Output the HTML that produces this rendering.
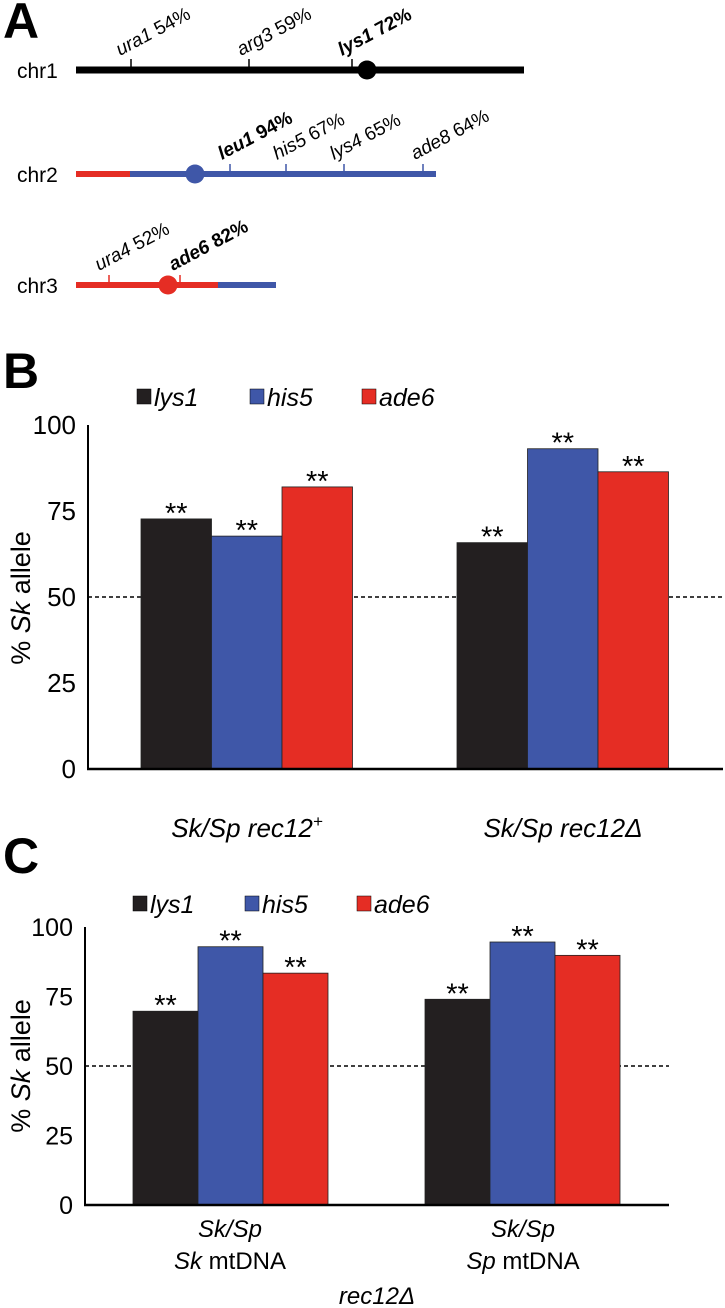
<!DOCTYPE html>
<html><head><meta charset="utf-8"><style>
html,body{margin:0;padding:0;background:#fff;}
svg{display:block;font-family:"Liberation Sans",Arial,sans-serif;}
</style></head><body>
<svg id="fig" width="725" height="1308" viewBox="0 0 725 1308" xmlns="http://www.w3.org/2000/svg">
<!-- Panel A -->
<g>
<text x="3" y="38" font-size="50" font-weight="bold">A</text>
<text x="17" y="78" font-size="21">chr1</text>
<line x1="76" y1="70" x2="524" y2="70" stroke="#000" stroke-width="7"/>
<line x1="131" y1="59" x2="131" y2="70" stroke="#000" stroke-width="1.5"/>
<line x1="249" y1="59" x2="249" y2="70" stroke="#000" stroke-width="1.5"/>
<line x1="352" y1="59" x2="352" y2="70" stroke="#000" stroke-width="1.5"/>
<circle cx="367" cy="70" r="9.5" fill="#000"/>
<text transform="translate(120,56) rotate(-28)" font-size="19" font-style="italic">ura1 <tspan font-style="normal">54%</tspan></text>
<text transform="translate(241,56) rotate(-28)" font-size="19" font-style="italic">arg3 <tspan font-style="normal">59%</tspan></text>
<text transform="translate(342,56) rotate(-28)" font-size="19" font-weight="bold" font-style="italic">lys1 <tspan font-style="normal">72%</tspan></text>

<text x="17" y="182" font-size="21">chr2</text>
<line x1="76" y1="174" x2="131" y2="174" stroke="#e52d24" stroke-width="6"/>
<line x1="130" y1="174" x2="436" y2="174" stroke="#3f57a8" stroke-width="6"/>
<circle cx="195" cy="174" r="9.5" fill="#3f57a8"/>
<g stroke="#3f57a8" stroke-width="1.5">
<line x1="230" y1="164" x2="230" y2="174"/>
<line x1="286" y1="164" x2="286" y2="174"/>
<line x1="344" y1="164" x2="344" y2="174"/>
<line x1="423" y1="164" x2="423" y2="174"/>
</g>
<text transform="translate(222,160) rotate(-28)" font-size="19" font-weight="bold" font-style="italic">leu1 <tspan font-style="normal">94%</tspan></text>
<text transform="translate(277,160) rotate(-28)" font-size="19" font-style="italic">his5 <tspan font-style="normal">67%</tspan></text>
<text transform="translate(334,160) rotate(-28)" font-size="19" font-style="italic">lys4 <tspan font-style="normal">65%</tspan></text>
<text transform="translate(415,160) rotate(-28)" font-size="19" font-style="italic">ade8 <tspan font-style="normal">64%</tspan></text>

<text x="17" y="293" font-size="21">chr3</text>
<line x1="76" y1="285" x2="219" y2="285" stroke="#e52d24" stroke-width="6"/>
<line x1="218" y1="285" x2="276" y2="285" stroke="#3f57a8" stroke-width="6"/>
<line x1="109" y1="275" x2="109" y2="285" stroke="#e52d24" stroke-width="1.5"/>
<line x1="180" y1="275" x2="180" y2="285" stroke="#e52d24" stroke-width="1.5"/>
<circle cx="168" cy="285" r="9.5" fill="#e52d24"/>
<text transform="translate(99,271) rotate(-28)" font-size="19" font-style="italic">ura4 <tspan font-style="normal">52%</tspan></text>
<text transform="translate(173,271) rotate(-28)" font-size="19" font-weight="bold" font-style="italic">ade6 <tspan font-style="normal">82%</tspan></text>
</g>
<g id="panelB"></g>
<g id="panelC"></g>
</svg>
<script>
const seriesNames = ["lys1","his5","ade6"];
const colors = ["#231f20","#3f57a8","#e52d24"];
const ticks = [0,25,50,75,100];
const valuesB_lys1 = [72.7, 65.8];
const valuesB_his5 = [67.7, 93.1];
const valuesB_ade6 = [82.0, 86.4];
const valuesC_lys1 = [69.7, 74.0];
const valuesC_his5 = [92.9, 94.6];
const valuesC_ade6 = [83.4, 89.8];
const NS = "http://www.w3.org/2000/svg";
function mk(parent, tag, attrs, text){
  const e = document.createElementNS(NS, tag);
  for (const k in attrs) e.setAttribute(k, attrs[k]);
  if (text !== undefined) e.textContent = text;
  parent.appendChild(e);
  return e;
}
function drawPanel(g, cfg, vals){
  const y = v => cfg.y0 - (v/100)*(cfg.y0-cfg.y100);
  let t;
  t = mk(g,"text",{x:3,y:cfg.labelY,"font-size":50,"font-weight":"bold"},cfg.letter);
  
  
  for (let i=0;i<3;i++){
    const r = mk(g,"rect",{x:cfg.legX[i],y:cfg.legY-8,width:14,height:15,fill:colors[i],stroke:"#000","stroke-width":0.5});
    
    
    t = mk(g,"text",{x:cfg.legX[i]+17,y:cfg.legY+9,"font-size":25,"font-style":"italic"},seriesNames[i]);
    
    
  }
  for (const v of ticks){
    t = mk(g,"text",{x:cfg.axX-12,y:y(v)+9,"font-size":cfg.tickFont,"text-anchor":"end"},String(v));
    
    
  }
  const d = mk(g,"line",{x1:cfg.axX,x2:cfg.axEnd,y1:y(50),y2:y(50),stroke:"#000","stroke-width":1.5,"stroke-dasharray":"4,3"});
  
  
  for (let gI=0; gI<2; gI++){
    for (let s=0;s<3;s++){
      const v = vals[s][gI];
      const x = cfg.groupX[gI] + s*cfg.barW;
      const b = mk(g,"rect",{x:x,y:y(v),width:cfg.barW,height:cfg.y0-y(v),fill:colors[s],stroke:"#222","stroke-width":0.8});
      
      
      const st = mk(g,"text",{x:x+cfg.barW/2,y:y(v)+4,"font-size":29,"text-anchor":"middle"},"**");
      
      
    }
  }
  const ya = mk(g,"line",{x1:cfg.axX,x2:cfg.axX,y1:cfg.y100,y2:cfg.y0+1,stroke:"#000","stroke-width":2});
  
  
  const xa = mk(g,"line",{x1:cfg.axX-1,x2:cfg.axEnd,y1:cfg.y0,y2:cfg.y0,stroke:"#000","stroke-width":2.5});
  
  
  const yt = mk(g,"text",{transform:"translate(30,"+cfg.titleY+") rotate(-90)","font-size":27,"text-anchor":"middle"});
  
  
  mk(yt,"tspan",{},"% ");
  mk(yt,"tspan",{"font-style":"italic"},"Sk");
  mk(yt,"tspan",{}," allele");
}
const cfgB = {letter:"B",labelY:388,legX:[137,250,362],legY:397,y0:769,y100:425,axX:88,axEnd:723,groupX:[141,457],barW:70.5,tickFont:26,titleY:598};
const cfgC = {letter:"C",labelY:873,legX:[133,245,357],legY:904,y0:1205,y100:927,axX:85,axEnd:669,groupX:[133,425],barW:65,tickFont:25,titleY:1066};
const gB = document.getElementById("panelB");
drawPanel(gB, cfgB, [valuesB_lys1, valuesB_his5, valuesB_ade6]);
const gC = document.getElementById("panelC");
drawPanel(gC, cfgC, [valuesC_lys1, valuesC_his5, valuesC_ade6]);
let t = mk(gB,"text",{x:247,y:837,"font-size":26,"font-style":"italic","text-anchor":"middle"});


t.innerHTML = 'Sk/Sp rec12<tspan dy="-10" font-size="17">+</tspan>';
t = mk(gB,"text",{x:563,y:837,"font-size":26,"font-style":"italic","text-anchor":"middle"},"Sk/Sp rec12Δ");


t = mk(gC,"text",{x:230,y:1237,"font-size":24,"font-style":"italic","text-anchor":"middle"},"Sk/Sp");


t = mk(gC,"text",{x:230,y:1269,"font-size":24,"text-anchor":"middle"});


t.innerHTML = '<tspan font-style="italic">Sk</tspan> mtDNA';
t = mk(gC,"text",{x:523,y:1237,"font-size":24,"font-style":"italic","text-anchor":"middle"},"Sk/Sp");


t = mk(gC,"text",{x:523,y:1269,"font-size":24,"text-anchor":"middle"});


t.innerHTML = '<tspan font-style="italic">Sp</tspan> mtDNA';
t = mk(gC,"text",{x:377,y:1304,"font-size":24,"font-style":"italic","text-anchor":"middle"},"rec12Δ");


</script>
</body></html>
